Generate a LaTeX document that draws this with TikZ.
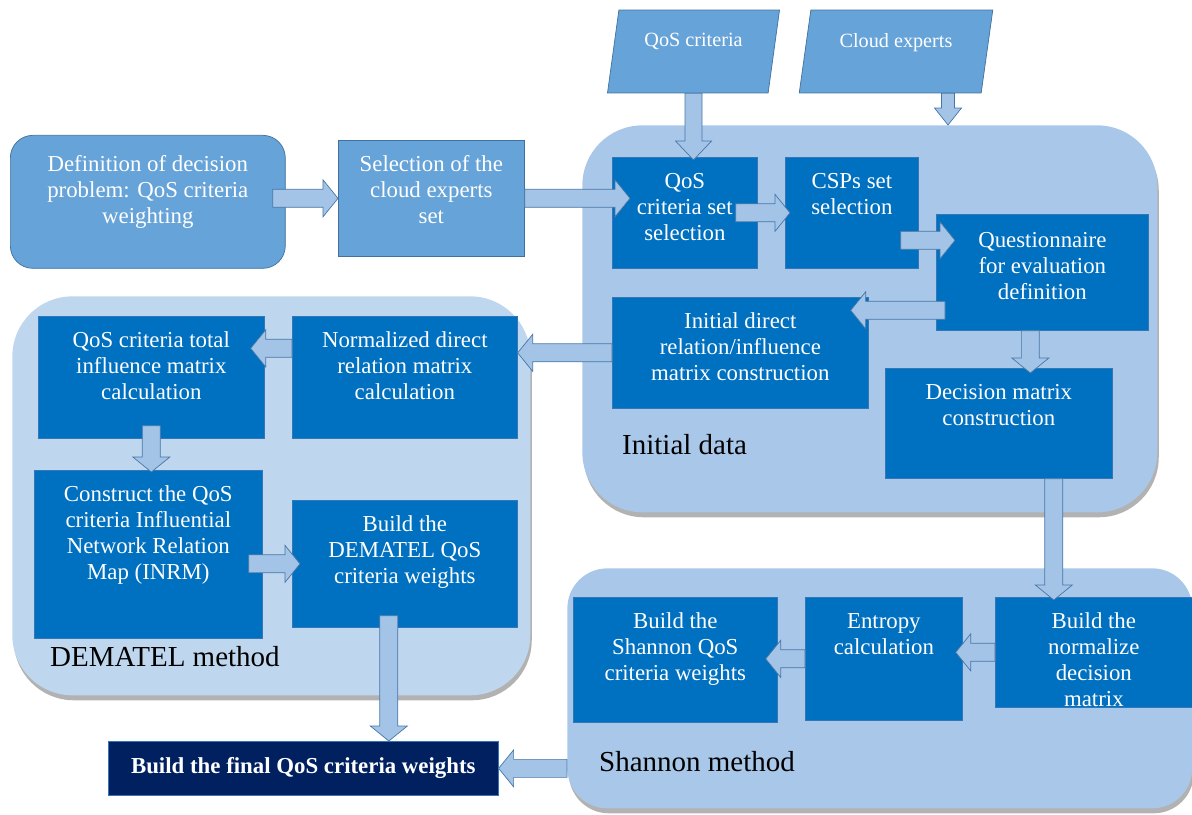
\documentclass[tikz,border=0pt]{standalone}
\usepackage{fontspec}
\setmainfont{Liberation Serif}
\usetikzlibrary{calc, positioning, shapes.geometric, shadows}
\definecolor{procblue}{RGB}{0,112,192}
\definecolor{procline}{RGB}{52,118,182}
\definecolor{inputblue}{RGB}{102,163,216}
\definecolor{inputline}{RGB}{65,113,156}
\definecolor{areablue}{RGB}{169,200,233}
\definecolor{demblue}{RGB}{191,215,238}
\definecolor{arrowblue}{RGB}{163,196,230}
\definecolor{arrowline}{RGB}{72,118,168}
\definecolor{finalblue}{RGB}{0,32,96}

\newcommand{\boxtext}[4][2.5mm]{\parbox[c][#3][t]{#2}{\vspace*{#1}\centering\strut#4\par}}

\begin{document}
\begin{tikzpicture}
    [
        x=0.02cm, y=-0.02cm,
        font=\fontsize{13}{14.8}\selectfont,
        box/.style={draw=procline, fill=procblue, text=white, anchor=north west, inner sep=0pt},
        inbox/.style={box, draw=inputline, fill=inputblue},
        datain/.style={trapezium, trapezium left angle=80, trapezium right angle=100,
            trapezium stretches=true, draw=inputline, fill=inputblue, text=white,
            minimum height=1.66cm, text depth=0.45cm, font=\fontsize{11.5}{13}\selectfont},
        region/.style={fill=areablue, anchor=north west, inner sep=0pt,
            drop shadow={shadow xshift=0.03cm, shadow yshift=-0.1cm, fill=black, opacity=0.3}},
        areatitle/.style={anchor=west, font=\fontsize{16.5}{19}\selectfont},
        fatw/.store in=\fatw, fath/.store in=\fath, fatl/.store in=\fatl,
        fatin/.store in=\fatin, fatout/.store in=\fatout,
        fatw=0.18cm, fath=0.37cm, fatl=0.3cm, fatin=0cm, fatout=0cm
    ]
    \tikzstyle{fat} = [draw=arrowline, fill=arrowblue, to path={
        let \p1=($(\tikztostart)!-\fatin!(\tikztotarget)$),
            \p2=($(\tikztotarget)!-\fatout!(\tikztostart)$),
            \p3=($(\p2)!\fatl!(\p1)$) in
        ($(\p1)!\fatw!90:(\p2)$) -- ($(\p3)!\fatw!90:(\p2)$)
        -- ($(\p3)!\fath!90:(\p2)$) -- (\p2)
        -- ($(\p3)!\fath!-90:(\p2)$) -- ($(\p3)!\fatw!-90:(\p2)$)
        -- ($(\p1)!\fatw!-90:(\p2)$) -- cycle}]

    \useasboundingbox (0,0) rectangle (1192,814);

    % Areas
    \node[region, minimum width=11.5cm, minimum height=7.74cm, rounded corners=1.2cm] (ini) at (582,125) {};
    \node[region, fill=demblue, minimum width=10.36cm, minimum height=7.98cm, rounded corners=1.2cm] (dema) at (12,296) {};
    \node[region, minimum width=12.5cm, minimum height=4.8cm, rounded corners=0.8cm] (sha) at (567,568) {};
    \node[areatitle] (ini_t) at (616,445) {Initial data};
    \node[areatitle] (dema_t) at (44,657) {DEMATEL method};
    \node[areatitle] (sha_t) at (593,762) {Shannon method};

    % Problem and inputs
    \node[inbox, rounded corners=0.45cm] (def) at (10,135) {\boxtext[3.5mm]{5.5cm}{2.66cm}{Definition of decision\\problem: QoS criteria\\weighting}};
    \node[inbox] (sel) at (338,140) {\boxtext{3.72cm}{2.32cm}{Selection of the\\cloud experts\\set}};
    \node[datain, minimum width=3.46cm] (qos) at (693.5,51.5) {QoS criteria};
    \node[datain, minimum width=3.88cm] (cld) at (896,51.5) {Cloud experts};

    % Initial data
    \node[box] (qcs) at (612,157) {\boxtext{2.9cm}{2.22cm}{QoS\\criteria set\\selection}};
    \node[box] (csp) at (785,157) {\boxtext{2.66cm}{2.22cm}{CSPs set\\selection}};
    \node[box] (que) at (936,214) {\boxtext[3mm]{4.24cm}{2.32cm}{Questionnaire\\for evaluation\\definition}};
    \node[box] (idr) at (612,297) {\boxtext{5.12cm}{2.22cm}{Initial direct\\relation/influence\\matrix construction}};
    \node[box] (dmc) at (885,368) {\boxtext{4.54cm}{2.2cm}{Decision matrix\\construction}};

    % DEMATEL
    \node[box] (tot) at (38,316) {\boxtext{4.52cm}{2.44cm}{QoS criteria total\\influence matrix\\calculation}};
    \node[box] (ndr) at (292,316) {\boxtext{4.5cm}{2.44cm}{Normalized direct\\relation matrix\\calculation}};
    \node[box] (inrm) at (34,470) {\boxtext{4.56cm}{3.36cm}{Construct the QoS\\criteria Influential\\Network Relation\\Map (INRM)}};
    \node[box] (dwt) at (292,500) {\boxtext{4.5cm}{2.54cm}{Build the\\DEMATEL QoS\\criteria weights}};

    % Shannon
    \node[box] (nor) at (995,597) {\boxtext{3.94cm}{2.2cm}{Build the\\normalize\\decision\\matrix}};
    \node[box] (ent) at (805,597) {\boxtext{3.14cm}{2.46cm}{Entropy\\calculation}};
    \node[box] (shw) at (573,597) {\boxtext{4.08cm}{2.5cm}{Build the\\Shannon QoS\\criteria weights}};

    % Result
    \node[box, fill=finalblue, font=\fontsize{13}{14.8}\selectfont\bfseries,
        minimum width=7.8cm, minimum height=1.08cm] (fin) at (108,741) {Build the final QoS criteria weights};

    % Arrows
    \coordinate (csp_out) at ([yshift=-0.55cm]csp.east);
    \coordinate (que_out) at ([yshift=-0.76cm]que.west);
    \coordinate (que_down) at ([xshift=-0.24cm]que.south);
    \coordinate (ndr_out) at ([yshift=0.58cm]ndr.west);
    \coordinate (dmc_out) at ([xshift=1.1cm]dmc.south);
    \coordinate (dwt_out) at ([xshift=-0.32cm]dwt.south);
    \coordinate (cld_out) at ([xshift=1.04cm]cld.south);

    \draw[fat, fatin=0.26cm] (def.east |- sel.west) to (sel.west);
    \draw[fat, fatout=0.36cm] (sel.east) to (sel.east -| qcs.west);
    \draw[fat, fatin=0.44cm, fatout=0.1cm] (qcs.east) to (csp.west);
    \draw[fat, fatin=0.36cm, fatout=0.38cm] (csp_out) to (csp_out -| que.west);
    \draw[fat, fatin=0.18cm, fatout=0.36cm] (que_out) to (que_out -| idr.east);
    \draw[fat, fatout=0.1cm] (que_down) to (que_down |- dmc.north);
    \draw[fat, fatout=0.06cm] (dmc_out) to (dmc_out |- nor.north);
    \draw[fat] (idr.west) to (idr.west -| ndr.east);
    \draw[fat, fatout=0.28cm] (ndr_out) to (ndr_out -| tot.east);
    \draw[fat, fatin=0.26cm, fatout=0.04cm] (tot.south) to (tot.south |- inrm.north);
    \draw[fat, fatin=0.28cm, fatout=0.16cm] (inrm.east |- dwt.west) to (dwt.west);
    \draw[fat, fatin=0.24cm] (dwt_out) to (dwt_out |- fin.north);
    \draw[fat, fatout=0.14cm] (nor.west) to (nor.west -| ent.east);
    \draw[fat, fatout=0.24cm] (ent.west) to (ent.west -| shw.east);
    \draw[fat] (fin.east -| sha.west) to (fin.east);
    \draw[fat, fatw=0.17cm, fath=0.36cm, fatl=0.38cm, fatout=0.06cm] (qos.south) to (qos.south |- qcs.north);
    \draw[fat, fatw=0.13cm, fath=0.27cm, fatl=0.34cm] (cld_out) to (cld_out |- ini.north);

\end{tikzpicture}
\end{document}
